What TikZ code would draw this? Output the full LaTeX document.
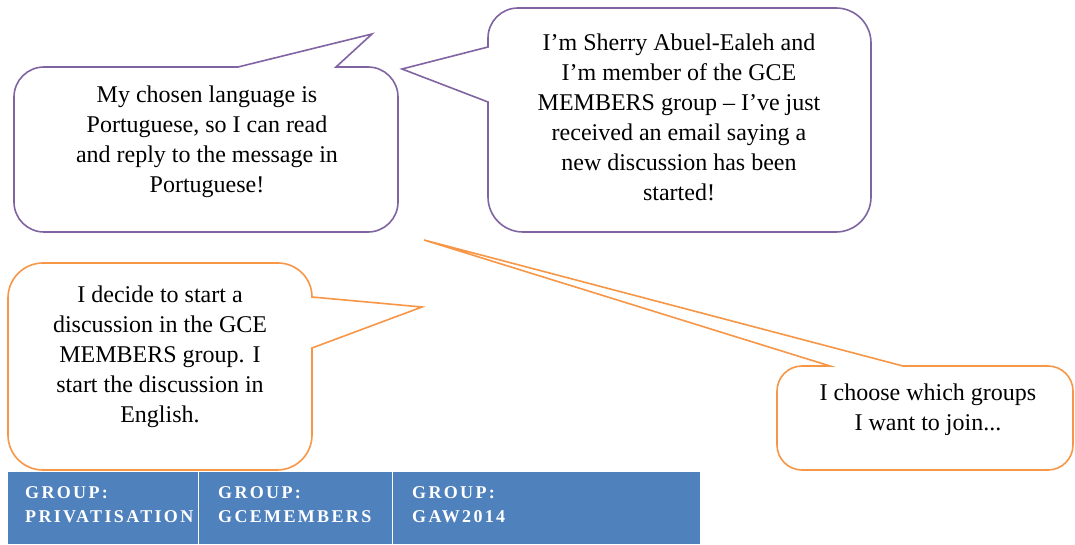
\documentclass[tikz,border=0pt]{standalone}
\usepackage{fontspec}
\setmainfont{Liberation Serif}
\newfontfamily\groupfont{Liberation Serif}[LetterSpace=13]
\definecolor{bubblepurple}{HTML}{8064A2}
\definecolor{bubbleorange}{HTML}{F79646}
\definecolor{groupblue}{HTML}{4F81BD}
\tikzset{
  talk/.style={line width=1.6pt, draw=#1, fill=white},
  said/.style={align=center, inner sep=0pt, font=\fontsize{24}{30}\selectfont},
  grouplabel/.style={anchor=north west, align=left, inner sep=0pt, text=white,
    font=\groupfont\bfseries\fontsize{18}{24}\selectfont}
}
\begin{document}
\begin{tikzpicture}[x=1pt, y=1pt]
\useasboundingbox (0,0) rectangle (1075,544);
\draw[talk=bubblepurple] (44,312) -- (368,312) arc[start angle=-90, end angle=0, radius=30]
  -- (398,447) arc[start angle=0, end angle=90, radius=30]
  -- (336,477) -- (372,510) -- (238,477)
  -- (44,477) arc[start angle=90, end angle=180, radius=30]
  -- (14,342) arc[start angle=180, end angle=270, radius=30] -- cycle;
\draw[talk=bubblepurple] (523,312) -- (836,312) arc[start angle=-90, end angle=0, radius=35]
  -- (871,501) arc[start angle=0, end angle=90, radius=35]
  -- (518,536) arc[start angle=90, end angle=180, radius=30]
  -- (488,497) -- (402,475) -- (488,442)
  -- (488,347) arc[start angle=180, end angle=270, radius=35] -- cycle;
\draw[talk=bubbleorange] (43,74) -- (277,74) arc[start angle=-90, end angle=0, radius=35]
  -- (312,196) -- (422,237) -- (312,247)
  arc[start angle=0, end angle=90, radius=34]
  -- (43,281) arc[start angle=90, end angle=180, radius=35]
  -- (8,109) arc[start angle=180, end angle=270, radius=35] -- cycle;
\draw[talk=bubbleorange] (802,74) -- (1048,74) arc[start angle=-90, end angle=0, radius=25]
  -- (1073,153) arc[start angle=0, end angle=90, radius=25]
  -- (903,178) -- (424,304) -- (830,178)
  -- (802,178) arc[start angle=90, end angle=180, radius=25]
  -- (777,99) arc[start angle=180, end angle=270, radius=25] -- cycle;
\node[said] (lang) at (207,402) {My chosen language is\\Portuguese, so I can read\\and reply to the message in\\Portuguese!};
\node[said] (sherry) at (679,427) {I'm Sherry Abuel-Ealeh and\\I'm member of the GCE\\MEMBERS group -- I've just\\received an email saying a\\new discussion has been\\started!};
\node[said] (start) at (160,187) {I decide to start a\\discussion in the GCE\\MEMBERS group. I\\start the discussion in\\English.};
\node[said] (choose) at (928,134) {I choose which groups\\I want to join...};
\fill[groupblue] (8,0) rectangle (700,72);
\draw[white, line width=1pt] (198,0) -- (198,72) (392,0) -- (392,72);
\node[grouplabel] (g1) at (25,58) {GROUP:\\PRIVATISATION};
\node[grouplabel] (g2) at (218,58) {GROUP:\\GCEMEMBERS};
\node[grouplabel] (g3) at (412,58) {GROUP:\\GAW2014};
\end{tikzpicture}
\end{document}
